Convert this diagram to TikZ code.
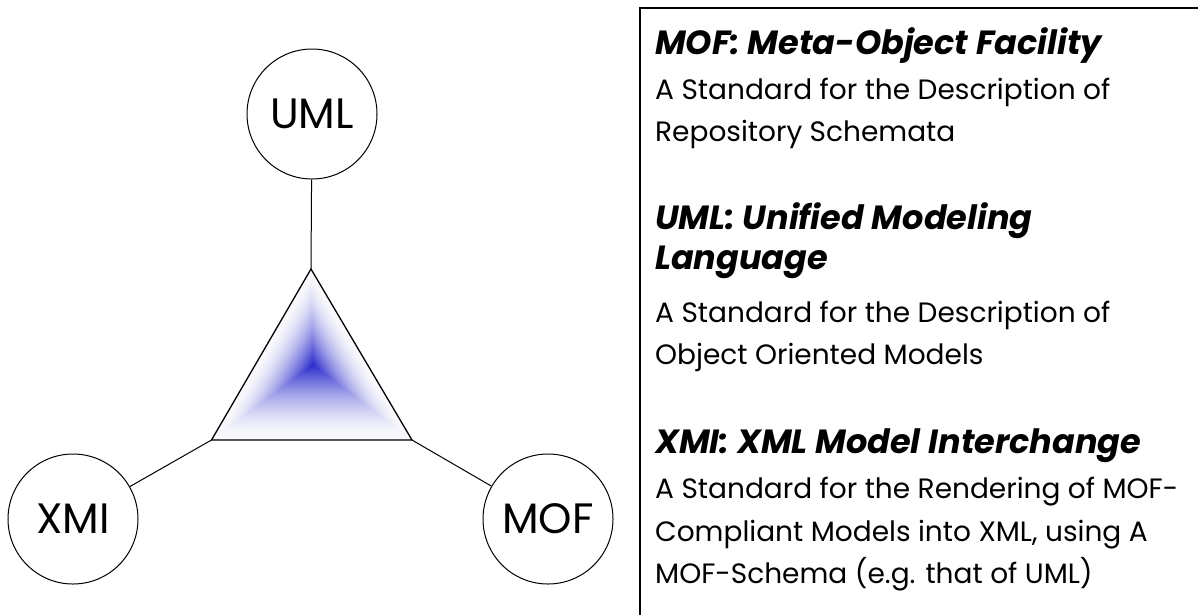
\documentclass[tikz,border=0pt]{standalone}
\usepackage{fontspec}
\setmainfont{Poppins}
\usetikzlibrary{calc}
\definecolor{triblue}{RGB}{40,40,205}
\definecolor{triedge}{RGB}{250,250,253}
\tikzset{
  stdcircle/.style={circle,draw,line width=1pt,minimum size=130pt,inner sep=0pt,font=\fontsize{42.5}{46}\selectfont},
  headline/.style={anchor=base west,inner sep=0pt,font=\fontsize{33.5}{36}\selectfont\bfseries\itshape},
  bodyline/.style={anchor=base west,inner sep=0pt,font=\fontsize{28}{32}\selectfont},
}
\begin{document}
\begin{tikzpicture}[x=1pt,y=-1pt]
\useasboundingbox (0,0) rectangle (1198,614);
% triangle
\coordinate (t1) at (311,269);
\coordinate (t2) at (211.5,440);
\coordinate (t3) at (412,440);
\coordinate (tc) at (313,365);
\foreach \i in {0,...,59}{
  \pgfmathsetmacro{\s}{1-\i/60}
  \pgfmathsetmacro{\p}{100*(1-\s)^1.7}
  \fill[triblue!\p!triedge] ($(tc)!\s!(t1)$) -- ($(tc)!\s!(t2)$) -- ($(tc)!\s!(t3)$) -- cycle;
}
\draw[line width=1.3pt,line join=miter] (t1) -- (t2) -- (t3) -- cycle;
% circles
\node[stdcircle] (uml) at (312,114) {UML};
\node[stdcircle] (xmi) at (73,519) {XMI};
\node[stdcircle] (mof) at (548,519) {MOF};
\draw[line width=1pt] (uml) -- (t1);
\draw[line width=1pt] (xmi) -- (t2);
\draw[line width=1pt] (mof) -- (t3);
% text box
\draw[line width=1.5pt] (640,8) rectangle (1210,630);
\node[headline] (h1) at (655,54) {MOF: Meta-Object Facility};
\node[bodyline] (b1a) at (655,99) {A Standard for the Description of};
\node[bodyline] (b1b) at (655,141.5) {Repository Schemata};
\node[headline] (h2a) at (655,229) {UML: Unified Modeling};
\node[headline] (h2b) at (655,269.5) {Language};
\node[bodyline] (b2a) at (655,322) {A Standard for the Description of};
\node[bodyline] (b2b) at (655,364.5) {Object Oriented Models};
\node[headline] (h3) at (655,453) {XMI: XML Model Interchange};
\node[bodyline] (b3a) at (655,498) {A Standard for the Rendering of MOF-};
\node[bodyline] (b3b) at (655,541) {Compliant Models into XML, using A};
\node[bodyline] (b3c) at (655,583.5) {MOF-Schema (e.g. that of UML)};
\end{tikzpicture}
\end{document}
